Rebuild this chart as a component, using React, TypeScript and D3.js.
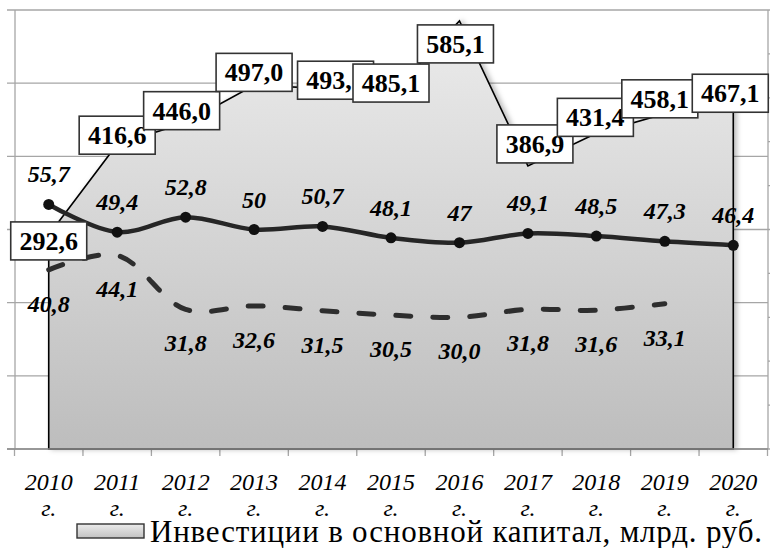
import React, { useEffect, useRef } from 'react';
import * as d3 from 'd3';

// ---------------- data ----------------
const years = ['2010', '2011', '2012', '2013', '2014', '2015', '2016', '2017', '2018', '2019', '2020'];
const investments = [292.6, 416.6, 446.0, 497.0, 493.1, 485.1, 585.1, 386.9, 431.4, 458.1, 467.1];
const shareSolid = [55.7, 49.4, 52.8, 50, 50.7, 48.1, 47, 49.1, 48.5, 47.3, 46.4];
const shareDashed = [40.8, 44.1, 31.8, 32.6, 31.5, 30.5, 30.0, 31.8, 31.6, 33.1];
const legendLabel = 'Инвестиции в основной капитал, млрд. руб.';

// nudges of the boxed labels (layout only), dx / dy from the point
const boxNudgeX = [0, 0, -4, 0, 13, 0, -4, 7, -1, -5, -3];
const boxNudgeY = [6, -9, -12, -13, -8, -11, 23, -22, -16, -15, -14];

const fmt = (v: number, digits: number) => v.toFixed(digits).replace('.', ',');
const fmtShare = (v: number) => (Number.isInteger(v) ? String(v) : fmt(v, 1));

export default function App() {
  const ref = useRef<SVGSVGElement>(null);
  const width = 770;
  const height = 548;
  const plot = { left: 14.5, right: 767.5, top: 10, bottom: 449 };
  const font = "Times New Roman, Liberation Serif, Tinos, Noto Serif, DejaVu Serif, FreeSerif, serif";

  useEffect(() => {
    const svg = d3.select(ref.current);
    svg.selectAll('*').remove();

    const defs = svg.append('defs');
    const grad = defs.append('linearGradient')
      .attr('id', 'areaGrad')
      .attr('gradientUnits', 'userSpaceOnUse')
      .attr('x1', 0).attr('x2', 0)
      .attr('y1', 20).attr('y2', plot.bottom);
    grad.append('stop').attr('offset', '0%').attr('stop-color', '#ececec');
    grad.append('stop').attr('offset', '100%').attr('stop-color', '#bdbdbd');

    const legGrad = defs.append('linearGradient')
      .attr('id', 'legGrad')
      .attr('x1', 0).attr('x2', 0).attr('y1', 0).attr('y2', 1);
    legGrad.append('stop').attr('offset', '0%').attr('stop-color', '#ececec');
    legGrad.append('stop').attr('offset', '100%').attr('stop-color', '#c2c2c2');

    const shadow = defs.append('filter').attr('id', 'shadow')
      .attr('x', '-10%').attr('y', '-10%').attr('width', '130%').attr('height', '130%');
    shadow.append('feDropShadow')
      .attr('dx', 3).attr('dy', 0).attr('stdDeviation', 2.5)
      .attr('flood-color', '#000').attr('flood-opacity', 0.25);

    // ------------ scales ------------
    const x = d3.scaleBand<string>().domain(years).range([plot.left, plot.right]);
    const cx = (y: string) => (x(y) as number) + x.bandwidth() / 2;
    const yLeft = d3.scaleLinear().domain([0, 600]).range([plot.bottom, plot.top]);
    const yRight = d3.scaleLinear().domain([0, 100]).range([plot.bottom, plot.top]);

    // ------------ grid / axes ------------
    svg.append('g').selectAll('line')
      .data(yLeft.ticks(6))
      .join('line')
      .attr('x1', 7).attr('x2', 768)
      .attr('y1', (d) => yLeft(d)).attr('y2', (d) => yLeft(d))
      .attr('stroke', '#a6a6a6').attr('stroke-width', 1.3);

    svg.append('line')
      .attr('x1', 15).attr('x2', 15).attr('y1', plot.top).attr('y2', plot.bottom)
      .attr('stroke', '#a6a6a6').attr('stroke-width', 1.3);
    svg.append('line')
      .attr('x1', 768).attr('x2', 768).attr('y1', plot.top).attr('y2', plot.bottom)
      .attr('stroke', '#a6a6a6').attr('stroke-width', 1.3);
    svg.append('g').selectAll('line')
      .data(yRight.ticks(10))
      .join('line')
      .attr('x1', 768).attr('x2', 776)
      .attr('y1', (d) => yRight(d)).attr('y2', (d) => yRight(d))
      .attr('stroke', '#a6a6a6').attr('stroke-width', 1.3);

    // bottom ticks at category boundaries
    svg.append('g').selectAll('line')
      .data([...years.map((y) => x(y) as number), plot.right])
      .join('line')
      .attr('x1', (d) => d).attr('x2', (d) => d)
      .attr('y1', plot.bottom).attr('y2', plot.bottom + 7)
      .attr('stroke', '#a6a6a6').attr('stroke-width', 1.3);

    // ------------ area ------------
    const area = d3.area<number>()
      .x((d, i) => cx(years[i]))
      .y0(plot.bottom)
      .y1((d) => yLeft(d));
    svg.append('path')
      .datum(investments)
      .attr('d', area)
      .attr('fill', 'url(#areaGrad)')
      .attr('stroke', '#000')
      .attr('stroke-width', 1.6)
      .attr('filter', 'url(#shadow)');

    // bottom axis line (over area)
    svg.append('line')
      .attr('x1', 7).attr('x2', 768).attr('y1', plot.bottom).attr('y2', plot.bottom)
      .attr('stroke', '#8c8c8c').attr('stroke-width', 1.5);

    // ------------ lines ------------
    const line = d3.line<number>()
      .x((d, i) => cx(years[i]))
      .y((d) => yRight(d))
      .curve(d3.curveCatmullRom.alpha(0.5));

    svg.append('path')
      .datum(shareDashed)
      .attr('d', line)
      .attr('fill', 'none')
      .attr('stroke', '#2e2e2e')
      .attr('stroke-width', 5)
      .attr('stroke-dasharray', '15 22')
      .attr('stroke-linecap', 'round');

    svg.append('path')
      .datum(shareSolid)
      .attr('d', line)
      .attr('fill', 'none')
      .attr('stroke', '#262626')
      .attr('stroke-width', 4.5);

    svg.append('g').selectAll('circle')
      .data(shareSolid)
      .join('circle')
      .attr('cx', (d, i) => cx(years[i]))
      .attr('cy', (d) => yRight(d))
      .attr('r', 5.5)
      .attr('fill', '#111');

    // ------------ share labels ------------
    svg.append('g').selectAll('text')
      .data(shareSolid)
      .join('text')
      .attr('x', (d, i) => cx(years[i]))
      .attr('y', (d) => yRight(d) - 22)
      .attr('text-anchor', 'middle')
      .attr('font-family', font)
      .attr('font-size', 24)
      .attr('font-weight', 'bold')
      .attr('font-style', 'italic')
      .attr('fill', '#000')
      .text((d) => fmtShare(d));

    svg.append('g').selectAll('text')
      .data(shareDashed)
      .join('text')
      .attr('x', (d, i) => cx(years[i]))
      .attr('y', (d) => yRight(d) + 42)
      .attr('text-anchor', 'middle')
      .attr('font-family', font)
      .attr('font-size', 24)
      .attr('font-weight', 'bold')
      .attr('font-style', 'italic')
      .attr('fill', '#000')
      .text((d) => fmt(d, 1));

    // ------------ boxed investment labels ------------
    const boxW = 76;
    const boxH = 38;
    const boxes = svg.append('g');
    investments.forEach((v, i) => {
      const bx = cx(years[i]) + boxNudgeX[i];
      const by = yLeft(v) + boxNudgeY[i];
      const g = boxes.append('g');
      g.append('rect')
        .attr('x', bx - boxW / 2).attr('y', by - boxH / 2)
        .attr('width', boxW).attr('height', boxH)
        .attr('fill', '#fff')
        .attr('stroke', '#333').attr('stroke-width', 1.6);
      g.append('text')
        .attr('x', bx).attr('y', by + 9)
        .attr('text-anchor', 'middle')
        .attr('font-family', font)
        .attr('font-size', 26)
        .attr('font-weight', 'bold')
        .attr('fill', '#000')
        .text(fmt(v, 1));
    });

    // ------------ x labels ------------
    const xl = svg.append('g').selectAll('text')
      .data(years)
      .join('text')
      .attr('text-anchor', 'middle')
      .attr('font-family', font)
      .attr('font-size', 24)
      .attr('font-style', 'italic')
      .attr('fill', '#000');
    xl.append('tspan').attr('x', (d) => cx(d)).attr('y', 490).text((d) => d);
    xl.append('tspan').attr('x', (d) => cx(d)).attr('y', 516).text('г.');

    // ------------ legend ------------
    svg.append('rect')
      .attr('x', 77).attr('y', 524).attr('width', 67).attr('height', 14)
      .attr('fill', 'url(#legGrad)')
      .attr('stroke', '#333').attr('stroke-width', 1.4);
    svg.append('text')
      .attr('x', 150).attr('y', 542)
      .attr('font-family', font)
      .attr('font-size', 31)
      .attr('textLength', 612)
      .attr('lengthAdjust', 'spacing')
      .attr('fill', '#000')
      .text(legendLabel);
  }, []);

  return (
    <svg
      ref={ref}
      width={width}
      height={height}
      style={{ position: 'absolute', left: 0, top: 0, background: '#fff' }}
    />
  );
}
